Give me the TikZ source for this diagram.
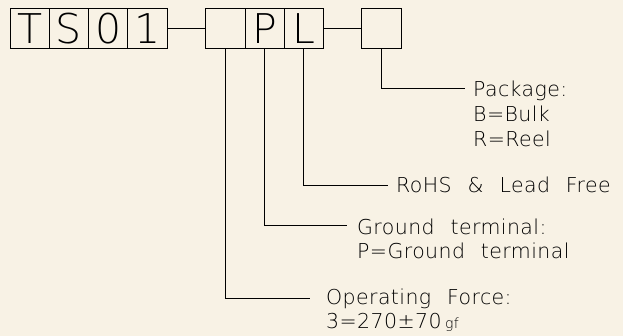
\documentclass[tikz,border=0pt]{standalone}
\usepackage{fontspec}
\setmainfont{DejaVu Sans ExtraLight}[LetterSpace=2,WordSpace=2.3]
\definecolor{bgc}{HTML}{F8F2E5}
\begin{document}
\begin{tikzpicture}[x=1pt,y=-1pt,
  cell/.style={draw,line width=0.95pt,minimum width=39.25pt,minimum height=40pt,inner sep=0pt,font=\fontsize{41}{41}\selectfont},
  lbl/.style={anchor=base west,inner sep=0pt,font=\fontsize{20.5}{20.5}\selectfont},
  lead/.style={line width=0.95pt}]
\fill[bgc] (0,0) rectangle (623,336);
\useasboundingbox (0,0) rectangle (623,336);
\node[cell] (b1) at (29.6,28.3) {T};
\node[cell] (b2) at (68.9,28.3) {S};
\node[cell] (b3) at (108.1,28.3) {0};
\node[cell] (b4) at (147.4,28.3) {1};
\node[cell] (c1) at (225.5,28.3) {};
\node[cell] (c2) at (264.7,28.3) {P};
\node[cell] (c3) at (303.9,28.3) {L};
\node[cell] (d1) at (381.5,28.3) {};
\draw[lead] (b4.east) -- (c1.west);
\draw[lead] (c3.east) -- (d1.west);
\coordinate (e1) at (465,88);
\coordinate (e2) at (388,185);
\coordinate (e3) at (347,225);
\coordinate (e4) at (310,298.3);
\draw[lead] (d1.south) |- (e1);
\draw[lead] (c3.south) |- (e2);
\draw[lead] (c2.south) |- (e3);
\draw[lead] (c1.south) |- (e4);
\node[lbl] (pk1) at (473,96.5) {Package:};
\node[lbl] (pk2) at (473,121.7) {B=Bulk};
\node[lbl] (pk3) at (473,146.7) {R=Reel};
\node[lbl] (rh) at (396,192.3) {RoHS \& Lead Free};
\node[lbl] (gt1) at (357,234.3) {Ground terminal:};
\node[lbl] (gt2) at (357,259) {P=Ground terminal};
\node[lbl] (of1) at (326,304.6) {Operating Force:};
\node[lbl] (of2) at (326,328.3) {3=270±70\,{\fontsize{14}{14}\selectfont gf}};
\end{tikzpicture}
\end{document}
